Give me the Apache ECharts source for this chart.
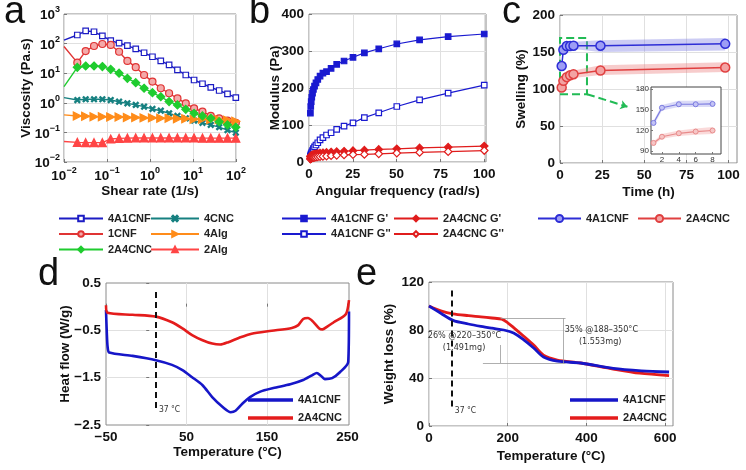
<!DOCTYPE html>
<html><head><meta charset="utf-8">
<script src="https://cdn.jsdelivr.net/npm/echarts@6/dist/echarts.min.js"></script>
<style>html,body{margin:0;padding:0;background:#fff}#c{width:746px;height:470px}</style>
</head><body><div id="c"></div>
<script>
// ---------------- DATA ----------------
// (a) viscosity vs shear rate
const shearRate = [0.01, 0.0204, 0.0319, 0.0499, 0.078, 0.122, 0.191, 0.298, 0.466, 0.728, 1.14, 1.78, 2.78, 4.35, 6.79, 10.6, 16.6, 25.9, 40.6, 63.4, 99];
const visc4A1CNF = [132, 195, 268, 251, 181, 126, 103, 86, 66, 49, 36, 26, 19, 13, 8.7, 5.9, 4.4, 3.3, 2.6, 2.0, 1.5];
const visc1CNF   = [80, 22.7, 56, 83, 97, 90, 53, 26, 16, 8.7, 5.2, 3.1, 2.1, 1.4, 0.96, 0.65, 0.50, 0.36, 0.30, 0.25, 0.21];
const visc2A4CNC = [3.5, 15.8, 17.5, 17.5, 16.8, 13.5, 10, 6.7, 4.8, 3.1, 2.2, 1.6, 1.1, 0.85, 0.60, 0.44, 0.36, 0.30, 0.23, 0.18, 0.15];
const visc4CNC   = [1.5, 1.24, 1.32, 1.32, 1.32, 1.24, 1.09, 0.96, 0.85, 0.74, 0.62, 0.54, 0.44, 0.36, 0.30, 0.25, 0.21, 0.18, 0.15, 0.12, 0.098];
const visc4Alg   = [0.39, 0.36, 0.35, 0.34, 0.34, 0.33, 0.33, 0.32, 0.32, 0.31, 0.31, 0.30, 0.30, 0.29, 0.29, 0.28, 0.28, 0.27, 0.27, 0.26, 0.24];
const visc2Alg   = [0.049, 0.046, 0.045, 0.045, 0.045, 0.060, 0.063, 0.064, 0.065, 0.065, 0.065, 0.065, 0.065, 0.065, 0.065, 0.065, 0.064, 0.064, 0.064, 0.064, 0.064];

// (b) modulus vs angular frequency
const angFreq = [0.794, 1, 1.26, 1.58, 2, 2.51, 3.16, 3.98, 5.01, 6.31, 7.94, 10, 12.6, 15.8, 20, 25.1, 31.6, 39.8, 50.1, 63.1, 79.4, 100];
const gp4A1CNF  = [132, 150, 163, 175, 186, 196, 205, 214, 223, 232, 240, 244, 253, 264, 273, 283, 295, 306, 319, 330, 339, 346];
const gpp4A1CNF = [16, 19, 23, 27, 31, 36, 41, 46, 52, 60, 66, 73, 79, 88, 97, 106, 120, 133, 150, 168, 186, 208];
const gp2A4CNC  = [14, 16, 17, 18, 19, 20, 21, 22, 23, 24, 25, 26, 27, 28, 29, 30.5, 32, 34, 35.5, 38, 40, 43];
const gpp2A4CNC = [8, 9, 10, 11, 11.5, 12, 12.5, 13, 14, 14.5, 15, 16, 17, 18, 19, 20, 20.5, 22, 24, 26, 28, 31];

// (c) swelling vs time
const swellTime = [1, 2, 4, 6, 8, 24, 98];
const swell4A1CNF = [131, 153, 158, 158, 158.5, 158.5, 161];
const band4A1CNFLow  = [127, 149, 154, 154, 154, 150, 152];
const band4A1CNFHigh = [134, 157, 163, 163, 164, 166, 169];
const swell2A4CNC = [102, 111, 116, 118.5, 120, 125, 129];
const band2A4CNCLow  = [99, 108, 112, 114, 115, 119, 123];
const band2A4CNCHigh = [104, 115, 120, 123, 125, 132, 136];
const insetCount = 5;            // first points (t <= 8 h) shown in the inset
const zoomBoxTime = [0, 16];     // green dashed box
const zoomBoxSwell = [93, 169];
const arrowFrom = [16, 93];
const arrowTo = [40, 76];

// (d) DSC
const dscTBlue = [-50, -49, -48, -46, -17, 12, 32, 45, 57, 70, 82, 95, 105, 111, 120, 129, 141, 158, 179, 195, 206, 212, 217, 222, 231, 241, 251, 252];
const dscHBlue = [-0.07, -0.55, -0.85, -0.97, -1.04, -1.13, -1.23, -1.34, -1.49, -1.66, -1.91, -2.12, -2.23, -2.2, -2.04, -1.91, -1.8, -1.72, -1.64, -1.55, -1.45, -1.40, -1.46, -1.53, -1.51, -1.38, -1.17, -0.1];
const dscTRed = [-50, -48, -17, 12, 32, 45, 57, 70, 82, 92, 102, 115, 131, 156, 181, 189, 195, 201, 207, 215, 219, 225, 233, 248, 252];
const dscHRed = [0.03, -0.13, -0.17, -0.21, -0.33, -0.46, -0.6, -0.71, -0.78, -0.8, -0.75, -0.66, -0.57, -0.51, -0.45, -0.39, -0.26, -0.24, -0.31, -0.46, -0.48, -0.42, -0.33, -0.16, 0.14];
const dscRef = {t: 12, top: 0.31, bottom: -2.18, label: '37 °C'};
const dscTicksT = [-50, 50, 150, 250];
const dscTicksH = [-2.5, -1.5, -0.5, 0.5];

// (e) TGA
const tgaTBlue = [0, 30, 61, 100, 132, 160, 190, 215, 240, 266, 291, 326, 385, 468, 540, 610];
const tgaWBlue = [100, 94, 88, 85, 83, 81.5, 80, 77.5, 72, 65, 57.5, 54, 52.5, 48, 46, 45];
const tgaTRed = [0, 30, 61, 100, 132, 160, 185, 200, 215, 240, 266, 291, 326, 385, 468, 535, 610];
const tgaWRed = [100, 96, 93.5, 92, 91, 90, 89, 86, 82, 75, 67.5, 59, 55, 52.5, 47.5, 44, 42];
const tgaRef = {t: 58, top: 113, bottom: 13, label: '37 °C'};
const tgaNotes = [
  {name: '26% @220–350°C', t: 90, w: 75},
  {name: '(1.491mg)', t: 89, w: 65},
  {name: '35% @188–350°C', t: 438, w: 80},
  {name: '(1.553mg)', t: 435, w: 70}
];
const tgaBrackets = [
  [[182, 90], [347, 90]],
  [[342, 90], [342, 52.5]],
  [[137, 52.5], [347, 52.5]],
  [[180, 67.5], [180, 52.5]]
];

// ---------------- STYLE ----------------
const FONT = "'Liberation Sans',Arial,Helvetica,sans-serif";
const tickText = {fontFamily: FONT, fontWeight: 'bold', fontSize: 13.5, color: '#111'};
const nameText = {fontFamily: FONT, fontWeight: 'bold', fontSize: 13.5, color: '#111'};
const minus = v => String(v).replace('-', '−');
const GRID_C = '#e0e0e0';

function mkAxis(o) {
  const ax = {
    nameLocation: 'middle', nameMoveOverlap: false, nameTextStyle: Object.assign({}, nameText),
    axisLine: {show: false},
    axisTick: {show: true, inside: true, length: 3, lineStyle: {color: '#777'}},
    axisLabel: Object.assign({margin: 5}, tickText),
    splitLine: {show: true, lineStyle: {color: GRID_C}}
  };
  for (const k in o) {
    if (['axisLabel', 'axisTick', 'splitLine', 'nameTextStyle'].includes(k)) ax[k] = Object.assign(ax[k], o[k]);
    else ax[k] = o[k];
  }
  return ax;
}
const pow10 = v => { const e = Math.round(Math.log10(v)); return '{b|10}{s|' + (e < 0 ? '−' + (-e) : e) + '}'; };
const richPow = {
  b: {fontFamily: FONT, fontWeight: 'bold', fontSize: 13.5, color: '#111', verticalAlign: 'bottom', lineHeight: 17},
  s: {fontFamily: FONT, fontWeight: 'bold', fontSize: 9, color: '#111', verticalAlign: 'top', lineHeight: 9}
};

const pts = (xs, ys) => xs.map((x, i) => [x, ys[i]]);

function lineA(name, vals, color, symbol, size, fill, extra) {
  return Object.assign({
    type: 'line', name: 'a:' + name, xAxisIndex: 0, yAxisIndex: 0,
    data: shearRate.map((x, i) => i === 0 ? {value: [x, vals[i]], symbol: 'none'} : [x, vals[i]]),
    symbol: symbol, symbolSize: size, showAllSymbol: true,
    lineStyle: {color: color, width: 1.4},
    itemStyle: {color: fill, borderColor: color, borderWidth: 1.2}
  }, extra || {});
}
function lineB(name, vals, color, symbol, size, fill) {
  return {
    type: 'line', name: 'b:' + name, xAxisIndex: 1, yAxisIndex: 1,
    data: pts(angFreq, vals), symbol: symbol, symbolSize: size, showAllSymbol: true,
    lineStyle: {color: color, width: 1.2},
    itemStyle: {color: fill, borderColor: color, borderWidth: 1.2}
  };
}
function bandCustom(xi, yi, times, low, high, color, n, z) {
  const data = times.slice(0, n).map((t, i) => [t, low[i], high[i]]);
  return {
    type: 'custom', xAxisIndex: xi, yAxisIndex: yi, silent: true, z: z, clip: true,
    data: data, encode: {x: 0, y: [1, 2]},
    renderItem: (params, api) => {
      if (params.dataIndex !== 0) return null;
      const top = data.map(d => api.coord([d[0], d[2]]));
      const bot = data.map(d => api.coord([d[0], d[1]])).reverse();
      return {type: 'polygon', shape: {points: top.concat(bot)}, style: {fill: color}};
    }
  };
}

const BLUE_A = '#1c1cc4', RED_A = '#e03434', GREEN_A = '#1fcc2f', TEAL_A = '#168080', ORANGE_A = '#ff8c1a', RED2_A = '#ff4545';
const xPath = 'path://M0,1.5L1.5,0L5,3.5L8.5,0L10,1.5L6.5,5L10,8.5L8.5,10L5,6.5L1.5,10L0,8.5L3.5,5Z';

const legendText = {fontFamily: FONT, fontWeight: 'bold', fontSize: 11, color: '#222', lineHeight: 13};
const lgFmt = n => n.slice(2);
const BLUE_DE = '#1616c8', RED_DE = '#e41c1c';
const annoFont = "'DejaVu Sans Condensed',sans-serif";

const option = {
  animation: false,
  backgroundColor: '#fff',
  textStyle: {fontFamily: FONT},
  grid: [
    {left: 64, top: 14, width: 172, height: 148, show: true, borderColor: '#8a8a8a', borderWidth: 1},
    {left: 309, top: 14, width: 177, height: 148, show: true, borderColor: '#8a8a8a', borderWidth: 1},
    {left: 560, top: 15, width: 177, height: 148, show: true, borderColor: '#8a8a8a', borderWidth: 1},
    {left: 651, top: 87, width: 70, height: 67, show: true, borderColor: '#444', borderWidth: 1, backgroundColor: '#fff', z: 4},
    {left: 106, top: 283, width: 243, height: 142, show: true, borderColor: '#8a8a8a', borderWidth: 1},
    {left: 429, top: 282, width: 244, height: 144, show: true, borderColor: '#8a8a8a', borderWidth: 1}
  ],
  xAxis: [
    mkAxis({type: 'log', gridIndex: 0, min: 0.01, max: 100, logBase: 10, name: 'Shear rate (1/s)', nameGap: 22,
            axisLabel: {formatter: pow10, rich: richPow, margin: 4}}),
    mkAxis({type: 'value', gridIndex: 1, min: 0, max: 101, interval: 25, name: 'Angular frequency (rad/s)', nameGap: 22,
            axisLabel: {customValues: [0, 25, 50, 75, 100]}, axisTick: {customValues: [0, 25, 50, 75, 100]}}),
    mkAxis({type: 'value', gridIndex: 2, min: 0, max: 105, interval: 25, name: 'Time (h)', nameGap: 22,
            axisLabel: {customValues: [0, 25, 50, 75, 100]}, axisTick: {customValues: [0, 25, 50, 75, 100]}}),
    mkAxis({type: 'value', gridIndex: 3, min: 0.7, max: 9, z: 5,
            axisLabel: {customValues: [2, 4, 6, 8], fontSize: 8, fontWeight: 'normal', color: '#333', margin: 2},
            axisTick: {customValues: [2, 4, 6, 8], length: 2}, splitLine: {show: false}}),
    mkAxis({type: 'value', gridIndex: 4, min: -50, max: 252, name: 'Temperature (°C)', nameGap: 20,
            axisLabel: {customValues: dscTicksT, formatter: minus}, axisTick: {customValues: dscTicksT}, splitLine: {show: false}}),
    mkAxis({type: 'value', gridIndex: 5, min: 0, max: 620, interval: 200, name: 'Temperature (°C)', nameGap: 23,
            axisLabel: {customValues: [0, 200, 400, 600]}, axisTick: {customValues: [0, 200, 400, 600]}})
  ],
  yAxis: [
    mkAxis({type: 'log', gridIndex: 0, min: 0.01, max: 1000, logBase: 10, name: 'Viscosity (Pa.s)', nameGap: 31,
            axisLabel: {formatter: pow10, rich: richPow, margin: 4}}),
    mkAxis({type: 'value', gridIndex: 1, min: 0, max: 400, interval: 100, name: 'Modulus (Pa)', nameGap: 27}),
    mkAxis({type: 'value', gridIndex: 2, min: 0, max: 200, interval: 50, name: 'Swelling (%)', nameGap: 32}),
    mkAxis({type: 'value', gridIndex: 3, min: 86, max: 183, z: 5,
            axisLabel: {customValues: [90, 120, 150, 180], fontSize: 8, fontWeight: 'normal', color: '#333', margin: 2},
            axisTick: {customValues: [90, 120, 150, 180], length: 2}, splitLine: {show: false}}),
    mkAxis({type: 'value', gridIndex: 4, min: -2.5, max: 0.5, name: 'Heat flow (W/g)', nameGap: 34,
            axisLabel: {customValues: dscTicksH, formatter: minus}, axisTick: {customValues: dscTicksH}, splitLine: {show: false}}),
    mkAxis({type: 'value', gridIndex: 5, min: 0, max: 120, interval: 40, name: 'Weight loss (%)', nameGap: 33})
  ],
  legend: [
    {orient: 'vertical', left: 58, top: 212, itemWidth: 44, itemHeight: 7, itemGap: 2.5, padding: 0, selectedMode: false,
     data: ['a:4A1CNF', 'a:1CNF', 'a:2A4CNC'], formatter: lgFmt, textStyle: legendText},
    {orient: 'vertical', left: 150, top: 212, itemWidth: 48, itemHeight: 7, itemGap: 2.5, padding: 0, selectedMode: false,
     data: ['a:4CNC', 'a:4Alg', 'a:2Alg'], formatter: lgFmt, textStyle: legendText},
    {orient: 'vertical', left: 281, top: 212, itemWidth: 44, itemHeight: 7, itemGap: 2.5, padding: 0, selectedMode: false,
     data: ["b:4A1CNF G'", "b:4A1CNF G''"], formatter: lgFmt, textStyle: legendText},
    {orient: 'vertical', left: 393, top: 212, itemWidth: 44, itemHeight: 7, itemGap: 2.5, padding: 0, selectedMode: false,
     data: ["b:2A4CNC G'", "b:2A4CNC G''"], formatter: lgFmt, textStyle: legendText},
    {orient: 'horizontal', left: 537, top: 212, itemWidth: 43, itemHeight: 9, padding: 0, selectedMode: false,
     data: ['c:4A1CNF'], formatter: lgFmt, textStyle: legendText},
    {orient: 'horizontal', left: 637, top: 212, itemWidth: 43, itemHeight: 9, padding: 0, selectedMode: false,
     data: ['c:2A4CNC'], formatter: lgFmt, textStyle: legendText},
    {orient: 'vertical', left: 248, top: 393, itemWidth: 45, itemHeight: 3.5, itemGap: 4, padding: 0, selectedMode: false, icon: 'rect',
     data: ['d:4A1CNF', 'd:2A4CNC'], formatter: lgFmt, textStyle: Object.assign({}, legendText, {lineHeight: 14})},
    {orient: 'vertical', left: 570, top: 393, itemWidth: 48, itemHeight: 3.5, itemGap: 4, padding: 0, selectedMode: false, icon: 'rect',
     data: ['e:4A1CNF', 'e:2A4CNC'], formatter: lgFmt, textStyle: Object.assign({}, legendText, {lineHeight: 14})}
  ],
  graphic: [
    {type: 'text', left: 4, top: -6, style: {text: 'a', font: "38px 'Liberation Sans', Arial", fill: '#111'}},
    {type: 'text', left: 249, top: -6, style: {text: 'b', font: "38px 'Liberation Sans', Arial", fill: '#111'}},
    {type: 'text', left: 502, top: -6, style: {text: 'c', font: "38px 'Liberation Sans', Arial", fill: '#111'}},
    {type: 'text', left: 38, top: 256, style: {text: 'd', font: "38px 'Liberation Sans', Arial", fill: '#111'}},
    {type: 'text', left: 356, top: 256, style: {text: 'e', font: "38px 'Liberation Sans', Arial", fill: '#111'}}
  ],
  series: [
    // (a)
    lineA('4A1CNF', visc4A1CNF, BLUE_A, 'rect', 5.5, '#ffffff'),
    lineA('4CNC', visc4CNC, TEAL_A, xPath, 5.5, TEAL_A),
    lineA('1CNF', visc1CNF, RED_A, 'circle', 7, '#f4a9a9'),
    lineA('4Alg', visc4Alg, ORANGE_A, 'triangle', 8, ORANGE_A, {symbolRotate: -90}),
    lineA('2A4CNC', visc2A4CNC, GREEN_A, 'diamond', 8, GREEN_A),
    lineA('2Alg', visc2Alg, RED2_A, 'triangle', 8, RED2_A),
    // (b)
    lineB("4A1CNF G'", gp4A1CNF, '#1a1ad0', 'rect', 5.5, '#1a1ad0'),
    lineB("4A1CNF G''", gpp4A1CNF, '#1a1ad0', 'rect', 5.5, '#ffffff'),
    lineB("2A4CNC G'", gp2A4CNC, '#e01c1c', 'diamond', 7.5, '#e01c1c'),
    lineB("2A4CNC G''", gpp2A4CNC, '#e01c1c', 'diamond', 7.5, '#ffffff'),
    // (c) bands
    bandCustom(2, 2, swellTime, band4A1CNFLow, band4A1CNFHigh, 'rgba(120,120,225,0.38)', swellTime.length, 1),
    bandCustom(2, 2, swellTime, band2A4CNCLow, band2A4CNCHigh, 'rgba(235,120,120,0.38)', swellTime.length, 1),
    {type: 'line', name: 'c:4A1CNF', xAxisIndex: 2, yAxisIndex: 2, data: pts(swellTime, swell4A1CNF),
     symbol: 'circle', symbolSize: 9, showAllSymbol: true, lineStyle: {color: '#2e2ed6', width: 1.5},
     itemStyle: {color: '#9d9df5', borderColor: '#2e2ed6', borderWidth: 1.5}, z: 3,
     markArea: {silent: true, itemStyle: {color: 'rgba(0,0,0,0)', borderColor: '#22bb55', borderWidth: 2, borderType: 'dashed'},
       data: [[{xAxis: zoomBoxTime[0], yAxis: zoomBoxSwell[0]}, {xAxis: zoomBoxTime[1], yAxis: zoomBoxSwell[1]}]]},
     markLine: {silent: true, symbol: ['none', 'arrow'], symbolSize: 7, label: {show: false},
       lineStyle: {color: '#22bb55', width: 2, type: 'dashed'},
       data: [[{coord: arrowFrom}, {coord: arrowTo}]]}},
    {type: 'line', name: 'c:2A4CNC', xAxisIndex: 2, yAxisIndex: 2, data: pts(swellTime, swell2A4CNC),
     symbol: 'circle', symbolSize: 9, showAllSymbol: true, lineStyle: {color: '#e04040', width: 1.5},
     itemStyle: {color: '#f3a3a3', borderColor: '#e04040', borderWidth: 1.5}, z: 3},
    // (c) inset
    bandCustom(3, 3, swellTime, band4A1CNFLow, band4A1CNFHigh, 'rgba(140,140,230,0.32)', insetCount, 6),
    bandCustom(3, 3, swellTime, band2A4CNCLow, band2A4CNCHigh, 'rgba(240,140,140,0.32)', insetCount, 6),
    {type: 'line', name: 'i:4A1CNF', xAxisIndex: 3, yAxisIndex: 3, data: pts(swellTime.slice(0, insetCount), swell4A1CNF),
     symbol: 'circle', symbolSize: 5, lineStyle: {color: '#7a7ae0', width: 1.2},
     itemStyle: {color: '#c4c4f5', borderColor: '#7a7ae0', borderWidth: 1}, z: 7},
    {type: 'line', name: 'i:2A4CNC', xAxisIndex: 3, yAxisIndex: 3, data: pts(swellTime.slice(0, insetCount), swell2A4CNC),
     symbol: 'circle', symbolSize: 5, lineStyle: {color: '#e88a8a', width: 1.2},
     itemStyle: {color: '#f6c6c6', borderColor: '#e88a8a', borderWidth: 1}, z: 7},
    // (d)
    {type: 'line', name: 'd:4A1CNF', xAxisIndex: 4, yAxisIndex: 4, data: pts(dscTBlue, dscHBlue), symbol: 'none',
     smooth: 0.25, lineStyle: {color: BLUE_DE, width: 2.6}, itemStyle: {color: BLUE_DE}, z: 3,
     markLine: {silent: true, symbol: 'none', label: {show: false}, lineStyle: {color: '#111', width: 2, type: [6, 4]},
       data: [[{coord: [dscRef.t, dscRef.top]}, {coord: [dscRef.t, dscRef.bottom]}]]},
     markPoint: {silent: true, symbol: 'circle', symbolSize: 0,
       label: {show: true, position: 'right', distance: 3, formatter: p => p.name, fontFamily: annoFont, fontSize: 8.5, color: '#333'},
       data: [{name: dscRef.label, coord: [dscRef.t, dscRef.bottom]}]}},
    {type: 'line', name: 'd:2A4CNC', xAxisIndex: 4, yAxisIndex: 4, data: pts(dscTRed, dscHRed), symbol: 'none',
     smooth: 0.25, lineStyle: {color: RED_DE, width: 2.6}, itemStyle: {color: RED_DE}, z: 3,
     // light grid lines at the inner tick positions of panel d
     markLine: {silent: true, symbol: 'none', label: {show: false}, z: 0, lineStyle: {color: GRID_C, width: 1, type: 'solid'},
       data: dscTicksT.slice(1, 3).map(v => ({xAxis: v})).concat(dscTicksH.slice(1, 3).map(v => ({yAxis: v})))}},
    // (e)
    {type: 'line', name: 'e:4A1CNF', xAxisIndex: 5, yAxisIndex: 5, data: pts(tgaTBlue, tgaWBlue), symbol: 'none',
     smooth: 0.3, lineStyle: {color: BLUE_DE, width: 2.8}, itemStyle: {color: BLUE_DE}, z: 3,
     markLine: {silent: true, symbol: 'none', label: {show: false}, lineStyle: {color: '#111', width: 2, type: [6, 4]},
       data: [[{coord: [tgaRef.t, tgaRef.top]}, {coord: [tgaRef.t, tgaRef.bottom]}]]},
     markPoint: {silent: true, symbol: 'circle', symbolSize: 0,
       label: {show: true, position: 'right', distance: 3, formatter: p => p.name, fontFamily: annoFont, fontSize: 8.5, color: '#333'},
       data: [{name: tgaRef.label, coord: [tgaRef.t, tgaRef.bottom]}]}},
    {type: 'line', name: 'e:2A4CNC', xAxisIndex: 5, yAxisIndex: 5, data: pts(tgaTRed, tgaWRed), symbol: 'none',
     smooth: 0.3, lineStyle: {color: RED_DE, width: 2.8}, itemStyle: {color: RED_DE}, z: 2,
     markLine: {silent: true, symbol: 'none', label: {show: false}, lineStyle: {color: '#9a9a9a', width: 0.8, type: 'solid'},
       data: tgaBrackets.map(s => [{coord: s[0]}, {coord: s[1]}])},
     markPoint: {silent: true, symbol: 'circle', symbolSize: 0,
       label: {show: true, position: 'inside', formatter: p => p.name, fontFamily: annoFont, fontSize: 9, color: '#333'},
       data: tgaNotes.map(n => ({name: n.name, coord: [n.t, n.w]}))}}
  ]
};
const chart = echarts.init(document.getElementById('c'), null, {renderer: 'canvas'});
chart.setOption(option);
</script>
</body></html>
